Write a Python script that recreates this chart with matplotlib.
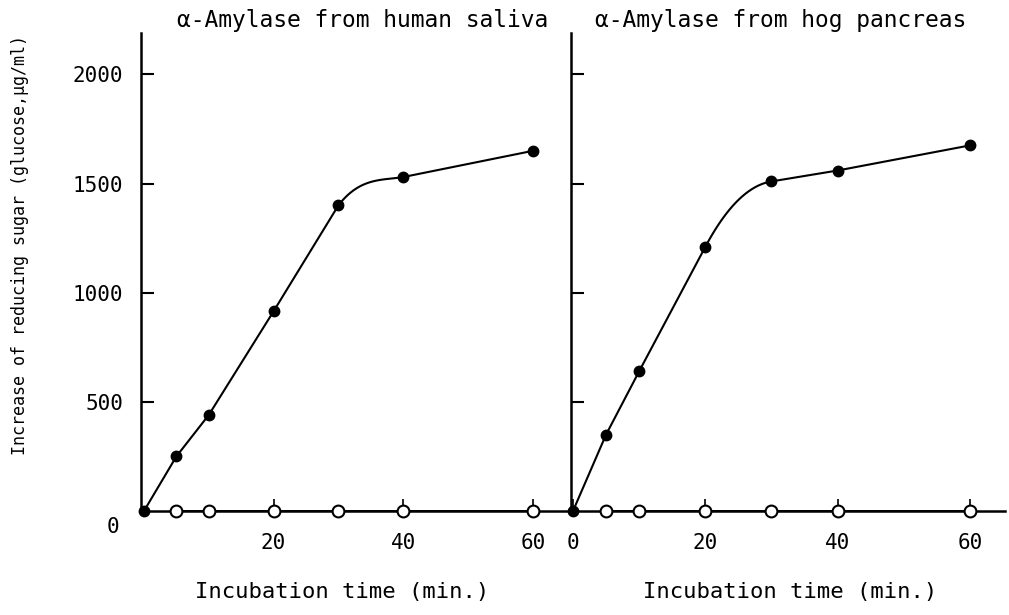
import numpy as np
import matplotlib
matplotlib.use("Agg")
import matplotlib.pyplot as plt

# Incubation times (min.)
time_min = [0, 5, 10, 20, 30, 40, 60]
control_time = [5, 10, 20, 30, 40, 60]

# Increase of reducing sugar (glucose, ug/ml)
saliva_active = [0, 250, 440, 915, 1400, 1530, 1650]
pancreas_active = [0, 350, 640, 1210, 1510, 1560, 1675]
saliva_control = [0, 0, 0, 0, 0, 0]
pancreas_control = [0, 0, 0, 0, 0, 0]

# segment (between time_min[i] and time_min[i+1]) where each curve bends over
saliva_bend = 4
pancreas_bend = 3

y_ticks = [500, 1000, 1500, 2000]
left_x_ticks = [20, 40, 60]
right_x_ticks = [0, 20, 40, 60]

FONT = "DejaVu Sans Mono"


def bent_line(x, y, bend, n=120):
    """Straight segments joined by one cubic Hermite segment at the bend."""
    x = np.asarray(x, float)
    y = np.asarray(y, float)
    d = np.diff(y) / np.diff(x)
    k = bend
    m0 = d[k - 1]
    m1 = d[k + 1]
    # keep the bend monotone (Fritsch-Carlson limit)
    a, b = m0 / d[k], m1 / d[k]
    s = a * a + b * b
    if s > 9:
        tau = 3 / np.sqrt(s)
        m0, m1 = tau * a * d[k], tau * b * d[k]
    h = x[k + 1] - x[k]
    t = np.linspace(0, 1, n)
    h00 = 2 * t**3 - 3 * t**2 + 1
    h10 = t**3 - 2 * t**2 + t
    h01 = -2 * t**3 + 3 * t**2
    h11 = t**3 - t**2
    cx = x[k] + t * h
    cy = h00 * y[k] + h10 * h * m0 + h01 * y[k + 1] + h11 * h * m1
    xs = np.concatenate([x[:k + 1], cx[1:-1], x[k + 1:]])
    ys = np.concatenate([y[:k + 1], cy[1:-1], y[k + 1:]])
    return xs, ys


def draw_panel(ax, active, bend, control, xlim, x_ticks, show_y_labels):
    xs, ys = bent_line(time_min, active, bend)
    ax.plot(xs, ys, color="black", lw=1.5, zorder=3)
    ax.plot(time_min, active, "o", color="black", ms=7.5, zorder=4, clip_on=False)
    ax.plot(control_time, control, "o-", color="black", mfc="white", mec="black",
            mew=1.5, ms=8.5, lw=1.4, zorder=4, clip_on=False)

    ax.set_xlim(*xlim)
    ax.set_ylim(0, 2190)
    for side in ("top", "right"):
        ax.spines[side].set_visible(False)
    for side in ("left", "bottom"):
        ax.spines[side].set_linewidth(1.8)

    ax.set_yticks(y_ticks)
    ax.set_xticks(x_ticks)
    ax.tick_params(axis="y", direction="in", length=9, width=1.5, pad=13,
                   labelsize=15, labelleft=show_y_labels)
    ax.tick_params(axis="x", direction="in", length=8.5, width=1.2, pad=16,
                   labelsize=15)
    for lab in ax.get_xticklabels() + ax.get_yticklabels():
        lab.set_fontfamily(FONT)


fig = plt.figure(figsize=(10.09, 6.15), dpi=100)
W, H = 1009, 615
bottom, top = 511, 33

ax1 = fig.add_axes([141 / W, 1 - bottom / H, (571 - 141) / W, (bottom - top) / H])
ax2 = fig.add_axes([571 / W, 1 - bottom / H, (1005 - 571) / W, (bottom - top) / H])

draw_panel(ax1, saliva_active, saliva_bend, saliva_control, (-0.46, 65.9),
           left_x_ticks, True)
draw_panel(ax2, pancreas_active, pancreas_bend, pancreas_control, (-0.3, 65.3),
           right_x_ticks, False)

# origin label for the left panel sits below the y axis
fig.text(113 / W, 1 - 527 / H, "0", ha="center", va="center", fontsize=15, family=FONT)

fig.text(363 / W, 1 - 21 / H, "\u03b1-Amylase from human saliva", ha="center", va="center",
         fontsize=16.5, family=FONT)
fig.text(781 / W, 1 - 20 / H, "\u03b1-Amylase from hog pancreas", ha="center", va="center",
         fontsize=16.5, family=FONT)

fig.text(342 / W, 1 - 592 / H, "Incubation time (min.)", ha="center", va="center",
         fontsize=16, family=FONT)
fig.text(790 / W, 1 - 592 / H, "Incubation time (min.)", ha="center", va="center",
         fontsize=16, family=FONT)

fig.text(20 / W, 1 - 245 / H, "Increase of reducing sugar (glucose,\u03bcg/ml)",
         ha="center", va="center", rotation=90, fontsize=12, family=FONT)

fig.savefig("out.png", dpi=100, facecolor="white")
